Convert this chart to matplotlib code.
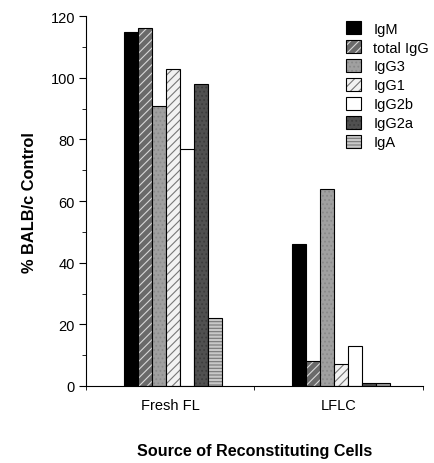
import matplotlib.pyplot as plt
from matplotlib.ticker import MultipleLocator, FixedLocator
import numpy as np

plt.rcParams['font.family'] = ['Liberation Sans', 'DejaVu Sans']
plt.rcParams['hatch.linewidth'] = 0.8

groups = ["Fresh FL", "LFLC"]
isotypes = ["IgM", "total IgG", "IgG3", "IgG1", "IgG2b", "IgG2a", "IgA"]
fresh_fl = [115, 116, 91, 103, 77, 98, 22]
lflc = [46, 8, 64, 7, 13, 1, 1]

# fill, hatch, hatch colour per isotype
fills = ["#000000", "#6a6a6a", "#a0a0a0", "#f2f2f2", "#ffffff", "#505050", "#c8c8c8"]
hatches = [None, "////", "....", "////", None, "....", "-----"]
hcolors = ["#000000", "#d8d8d8", "#8a8a8a", "#777777", "#000000", "#3c3c3c", "#777777"]

fig = plt.figure(figsize=(4.35, 4.64), dpi=100)
ax = fig.add_axes([0.198, 0.166, 0.774, 0.797])

centers = np.array([0.5, 1.5])
w = 0.083
values = np.array([fresh_fl, lflc])
for i, name in enumerate(isotypes):
    x = centers + (i - 3) * w + 0.015
    bars = ax.bar(x, values[:, i], width=w, color=fills[i], edgecolor="black",
                  linewidth=0.8, label=name, hatch=hatches[i])
    for b in bars:
        b._hatch_color = plt.matplotlib.colors.to_rgba(hcolors[i])

ax.set_xlim(0, 2)
ax.set_ylim(0, 120)
ax.yaxis.set_major_locator(MultipleLocator(20))
ax.yaxis.set_minor_locator(MultipleLocator(10))
ax.set_xticks(centers)
ax.set_xticklabels(groups, fontsize=10.5)
ax.xaxis.set_minor_locator(FixedLocator([0, 1, 2]))
ax.tick_params(axis="x", which="major", length=0, pad=9)
ax.tick_params(axis="x", which="minor", length=3, direction="out")
ax.tick_params(axis="y", which="major", length=5, labelsize=10.5, pad=3)
ax.tick_params(axis="y", which="minor", length=3)
for s in ["top", "right"]:
    ax.spines[s].set_visible(False)

ax.set_ylabel("% BALB/c Control", fontsize=11.8, fontweight="bold", labelpad=10)
ax.set_xlabel("Source of Reconstituting Cells", fontsize=11.6, fontweight="bold", labelpad=22)

leg = ax.legend(loc="upper right", bbox_to_anchor=(1.057, 1.022), frameon=False,
                fontsize=10.5, handlelength=1.05, handleheight=1.0, handletextpad=0.8,
                labelspacing=0.3)

fig.savefig("out.png", dpi=100)
